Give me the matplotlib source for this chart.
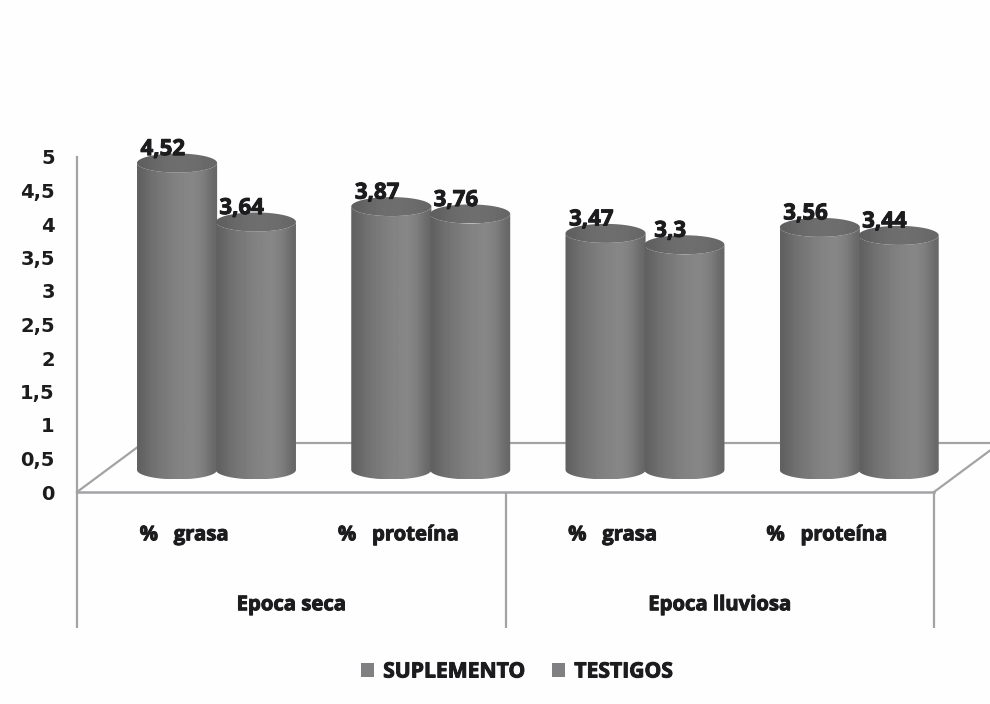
import numpy as np
import matplotlib
matplotlib.use('Agg')
import matplotlib.pyplot as plt
import matplotlib.patheffects as pe
from matplotlib.path import Path
from matplotlib.patches import PathPatch, Patch

# values
categories = ['%   grasa', '%   proteína', '%   grasa', '%   proteína']
seasons = ['Epoca seca', 'Epoca lluviosa']
suplemento = [4.52, 3.87, 3.47, 3.56]
testigos = [3.64, 3.76, 3.3, 3.44]
series_names = ['SUPLEMENTO', 'TESTIGOS']
y_ticks = [0, 0.5, 1, 1.5, 2, 2.5, 3, 3.5, 4, 4.5, 5]

W, H = 990, 704
LINE = '#a3a3a5'
TEXT = '#1c1c1e'
BACK = '#fefefe'
DEPTH_X, DEPTH_Y = 0.308, 0.73     # floor depth, in data units
BASE = 0.33                        # cylinders stand on the middle of the floor
TOP_LIFT = 0.06                    # tops sit a little higher than base + value
BAR_W, RY = 0.374, 0.142
plt.rcParams['font.family'] = ['Open Sans', 'DejaVu Sans']
HEAVY = [pe.withStroke(linewidth=0.7, foreground=TEXT)]

fig = plt.figure(figsize=(W / 100, H / 100), dpi=100, facecolor=BACK)
ax = fig.add_axes([77 / W, 1 - 492 / H, (934 - 77) / W, (492 - 157) / H], facecolor='none')

# gradient of a cylinder side, dark edges and lighter right of the middle
side = np.array([0.38, 0.42, 0.45, 0.47, 0.49, 0.51, 0.52, 0.53, 0.51, 0.47, 0.40]).reshape(1, -1)
top = np.array([0.37, 0.40, 0.42, 0.43, 0.43, 0.43, 0.42, 0.40]).reshape(1, -1)


def cylinder(xc, value, z):
    a = BAR_W / 2
    y_top = BASE + TOP_LIFT + value
    # side: round the front of the base, then back along the front of the top
    t = np.linspace(0, np.pi, 60)
    px = np.r_[xc - a * np.cos(t), xc + a * np.cos(t)]
    py = np.r_[BASE - RY * np.sin(t), y_top - RY * np.sin(t)]
    clip = PathPatch(Path(np.c_[px, py]), transform=ax.transData, visible=False)
    ax.add_patch(clip)
    im = ax.imshow(side, cmap='gray', vmin=0, vmax=1, aspect='auto', interpolation='bicubic',
                   extent=(xc - a, xc + a, BASE - RY, y_top), zorder=z)
    im.set_clip_box(fig.bbox)
    im.set_clip_path(clip)
    # top ellipse
    t2 = np.linspace(0, 2 * np.pi, 120)
    clip2 = PathPatch(Path(np.c_[xc + a * np.cos(t2), y_top + RY * np.sin(t2)]),
                      transform=ax.transData, visible=False)
    ax.add_patch(clip2)
    im2 = ax.imshow(top, cmap='gray', vmin=0, vmax=1, aspect='auto', interpolation='bicubic',
                    extent=(xc - a, xc + a, y_top - RY, y_top + RY), zorder=z + 0.1)
    im2.set_clip_box(fig.bbox)
    im2.set_clip_path(clip2)


# floor lines
ax.plot([0, DEPTH_X], [0, DEPTH_Y], color=LINE, lw=1.6, clip_on=False, zorder=1)
ax.plot([4, 4 + DEPTH_X], [0, DEPTH_Y], color=LINE, lw=1.6, clip_on=False, zorder=1)
ax.plot([DEPTH_X, 4 + DEPTH_X], [DEPTH_Y, DEPTH_Y], color=LINE, lw=1.6, clip_on=False, zorder=1)
ax.plot([0, 4], [0, 0], color=LINE, lw=1.8, clip_on=False, zorder=1)

# group separators of the two level axis
ax.vlines([0, 2, 4], -2.03, 0, color=LINE, lw=1.6, clip_on=False)
ax.plot([0, 0], [0, 5], color=LINE, lw=1.6, clip_on=False)

z = 3
for i in range(len(categories)):
    for off, vals in zip((-0.184, 0.184), (suplemento, testigos)):
        xc = i + 0.5 + 0.151 + off
        cylinder(xc, vals[i], z)
        z += 1
        ax.text(xc - 0.066, vals[i] + 0.59, str(vals[i]).replace('.', ','), ha='center', va='center',
                fontsize=16, fontweight='bold', color=TEXT, zorder=50, clip_on=False,
                path_effects=HEAVY)

ax.set_xlim(0, 4)
ax.set_ylim(0, 5)

for s in ax.spines.values():
    s.set_visible(False)
ax.set_xticks(np.arange(4) + 0.5)
ax.set_xticklabels(categories, fontsize=14.6, fontweight='bold', color=TEXT, path_effects=HEAVY)
ax.set_yticks(y_ticks)
ax.set_yticklabels([str(v).replace('.', ',') for v in y_ticks], fontsize=14, fontweight='bold',
                   color=TEXT, family=['DejaVu Sans'])
ax.tick_params(axis='both', length=0)
ax.tick_params(axis='x', pad=24)
ax.tick_params(axis='y', pad=16)

for j, name in enumerate(seasons):
    ax.text(2 * j + 1, -1.69, name, ha='center', va='center', fontsize=14.6, fontweight='bold',
            color=TEXT, clip_on=False, path_effects=HEAVY)

handles = [Patch(facecolor='#808083', edgecolor='none', label=n) for n in series_names]
leg = fig.legend(handles=handles, loc='center', bbox_to_anchor=(517 / W, 1 - 672 / H), ncol=2,
                 frameon=False, handlelength=0.62, handleheight=0.62, handletextpad=0.42,
                 columnspacing=1.3, prop={'size': 15.2, 'weight': 'bold'})
for t in leg.get_texts():
    t.set_color(TEXT)
    t.set_path_effects(HEAVY)

fig.savefig('out.png', dpi=100, facecolor=BACK)
